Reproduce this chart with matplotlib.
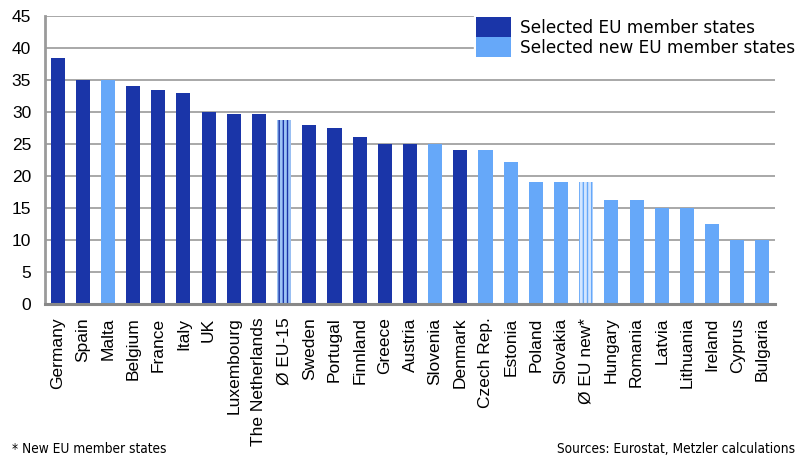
import matplotlib
matplotlib.use("Agg")
import matplotlib.pyplot as plt
from matplotlib.patches import Patch

countries = ['Germany', 'Spain', 'Malta', 'Belgium', 'France', 'Italy', 'UK',
             'Luxembourg', 'The Netherlands', 'Ø EU-15', 'Sweden', 'Portugal',
             'Finnland', 'Greece', 'Austria', 'Slovenia', 'Denmark', 'Czech Rep.',
             'Estonia', 'Poland', 'Slovakia', 'Ø EU new*', 'Hungary', 'Romania',
             'Latvia', 'Lithuania', 'Ireland', 'Cyprus', 'Bulgaria']
rates = [38.4, 35.0, 35.0, 34.0, 33.4, 32.9, 29.9, 29.6, 29.6, 28.7, 27.9, 27.5,
         26.0, 25.0, 25.0, 25.0, 24.0, 24.0, 22.1, 19.0, 19.0, 19.0, 16.2, 16.2,
         15.0, 15.0, 12.5, 10.0, 10.0]
# 'old' = dark bars, 'new' = light bars
group = ['old', 'old', 'new', 'old', 'old', 'old', 'old', 'old', 'old', 'old',
         'old', 'old', 'old', 'old', 'old', 'new', 'old', 'new', 'new', 'new',
         'new', 'new', 'new', 'new', 'new', 'new', 'new', 'new', 'new']
averages = ['Ø EU-15', 'Ø EU new*']

dark = '#1A35A8'
light = '#66A8F9'
stripe = {'old': '#9DC3F5', 'new': '#D3E6FF'}

plt.rcParams['font.family'] = ['Liberation Sans', 'DejaVu Sans']
plt.rcParams['hatch.linewidth'] = 2.0

fig = plt.figure(figsize=(7.98, 4.58), dpi=100)
ax = fig.add_axes([45 / 798, 1 - 303.7 / 458, 730 / 798, 288 / 458])

x = range(len(countries))
for i, (name, val, g) in enumerate(zip(countries, rates, group)):
    col = dark if g == 'old' else light
    if name in averages:
        ax.bar(i, val, width=0.56, color=col, edgecolor=stripe[g],
               hatch='||||', linewidth=0, zorder=3)
    else:
        ax.bar(i, val, width=0.56, color=col, linewidth=0, zorder=3)

ax.set_xlim(-0.5, len(countries) - 0.5)
ax.set_ylim(0, 45)
ax.set_yticks(range(0, 46, 5))
ax.set_xticks(list(x))
ax.set_xticklabels(countries, rotation=90, fontsize=12.5)
ax.tick_params(axis='y', length=0, pad=10, labelsize=12.5)
ax.tick_params(axis='x', length=0, pad=10)

ax.grid(axis='y', color='#A8A8A8', linewidth=1.4, zorder=0)
ax.set_axisbelow(True)
for side in ['top', 'right']:
    ax.spines[side].set_visible(False)
ax.spines['left'].set_color('#9A9A9A')
ax.spines['left'].set_linewidth(2)
ax.spines['bottom'].set_color('#888888')
ax.spines['bottom'].set_linewidth(2.2)
ax.spines['bottom'].set_zorder(4)

handles = [Patch(facecolor=dark, linewidth=0), Patch(facecolor=light, linewidth=0)]
leg = ax.legend(handles, ['Selected EU member states', 'Selected new EU member states'],
                loc='upper left', bbox_to_anchor=(474 / 798, 1 - 15.5 / 458),
                bbox_transform=fig.transFigure, frameon=True, fancybox=False,
                framealpha=1, edgecolor='white', borderpad=0.1, borderaxespad=0,
                handlelength=2.1, handleheight=1.45, labelspacing=0,
                handletextpad=0.5, prop={'family': 'DejaVu Sans', 'size': 12.2})
leg.set_zorder(5)

foot = dict(fontsize=9.8, family='DejaVu Sans', fontstretch='condensed', va='center')
fig.text(12 / 798, 1 - 449 / 458, '* New EU member states', ha='left', **foot)
fig.text(795 / 798, 1 - 449 / 458, 'Sources: Eurostat, Metzler calculations',
         ha='right', **foot)

fig.savefig('out.png', dpi=100)
